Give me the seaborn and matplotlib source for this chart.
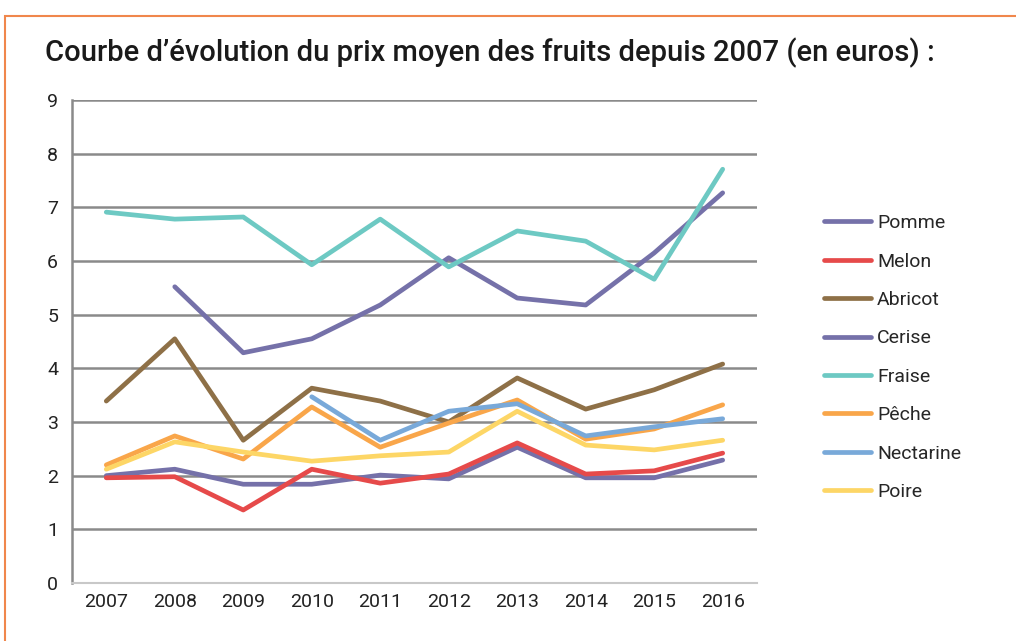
import numpy as np
import pandas as pd
import seaborn as sns
import matplotlib.pyplot as plt
from matplotlib.patches import Rectangle

# Data (euros)
years = [2007, 2008, 2009, 2010, 2011, 2012, 2013, 2014, 2015, 2016]
fruits = ['Pomme', 'Melon', 'Abricot', 'Cerise', 'Fraise', 'Pêche', 'Nectarine', 'Poire']

pomme = [2.00, 2.12, 1.84, 1.84, 2.01, 1.94, 2.53, 1.96, 1.96, 2.29]
melon = [1.96, 1.98, 1.36, 2.12, 1.86, 2.03, 2.61, 2.03, 2.09, 2.42]
abricot = [3.39, 4.55, 2.66, 3.63, 3.39, 3.00, 3.82, 3.24, 3.60, 4.08]
cerise = [np.nan, 5.52, 4.29, 4.55, 5.18, 6.06, 5.31, 5.18, 6.15, 7.27]
fraise = [6.91, 6.78, 6.82, 5.93, 6.78, 5.89, 6.56, 6.37, 5.66, 7.71]
peche = [2.20, 2.74, 2.31, 3.28, 2.53, 2.98, 3.41, 2.68, 2.87, 3.32]
nectarine = [np.nan, np.nan, np.nan, 3.47, 2.66, 3.20, 3.34, 2.74, 2.91, 3.06]
poire = [2.12, 2.63, 2.44, 2.27, 2.37, 2.44, 3.20, 2.57, 2.48, 2.66]

colors = ['#7571A9', '#E64A4A', '#8E7047', '#7571A9', '#6DC9C3', '#F9A64A', '#79A9D9', '#FDD666']

wide = pd.DataFrame({'Pomme': pomme, 'Melon': melon, 'Abricot': abricot, 'Cerise': cerise,
                     'Fraise': fraise, 'Pêche': peche, 'Nectarine': nectarine, 'Poire': poire},
                    index=years)
wide.index.name = 'annee'
df = wide.reset_index().melt(id_vars='annee', var_name='fruit', value_name='prix').dropna()
df['pos'] = df['annee'] - years[0]

sns.set_style('white')
plt.rcParams['font.family'] = ['Roboto', 'DejaVu Sans']

fig = plt.figure(figsize=(10.16, 6.41), dpi=100)
ax = fig.add_axes([0.0709, 0.0905, 0.6741, 0.7535])

sns.lineplot(data=df, x='pos', y='prix', hue='fruit', hue_order=fruits,
             palette=dict(zip(fruits, colors)), linewidth=3.4, ax=ax,
             solid_capstyle='round', solid_joinstyle='round')

ax.set_xlim(-0.5, 9.5)
ax.set_ylim(0, 9)
ax.set_yticks(range(10))
ax.set_xticks(range(len(years)))
ax.set_xticklabels([str(y) for y in years])
ax.tick_params(axis='both', labelsize=14, colors='#222222', labelcolor='#222222')
ax.tick_params(axis='y', length=6, width=1.5, color='#8a8a8a', pad=4)
ax.tick_params(axis='x', length=0, pad=7)
ax.set_xlabel('')
ax.set_ylabel('')
ax.yaxis.grid(True, color='#8a8a8a', linewidth=1.8)
ax.set_axisbelow(True)
for s in ['top', 'right']:
    ax.spines[s].set_visible(False)
ax.spines['left'].set_color('#8a8a8a')
ax.spines['left'].set_linewidth(1.8)
ax.spines['bottom'].set_color('#c8c8c8')
ax.spines['bottom'].set_linewidth(1.5)

leg = ax.legend(loc='upper left', bbox_to_anchor=(1.073, 0.8), frameon=False,
                fontsize=14, handlelength=2.4, handletextpad=0.3, labelspacing=1.05)
for line in leg.get_lines():
    line.set_linewidth(3.4)
    line.set_solid_capstyle('round')

fig.text(0.044, 0.918, "Courbe d’évolution du prix moyen des fruits depuis 2007 (en euros) :",
         fontsize=21, fontweight='medium', color='#1a1a1a', va='center', ha='left')

fig.patches.append(Rectangle((0.005, -0.05), 1.1, 1.025, transform=fig.transFigure,
                             fill=False, edgecolor='#F0874C', linewidth=1.5))

fig.savefig('out.png', dpi=100)
